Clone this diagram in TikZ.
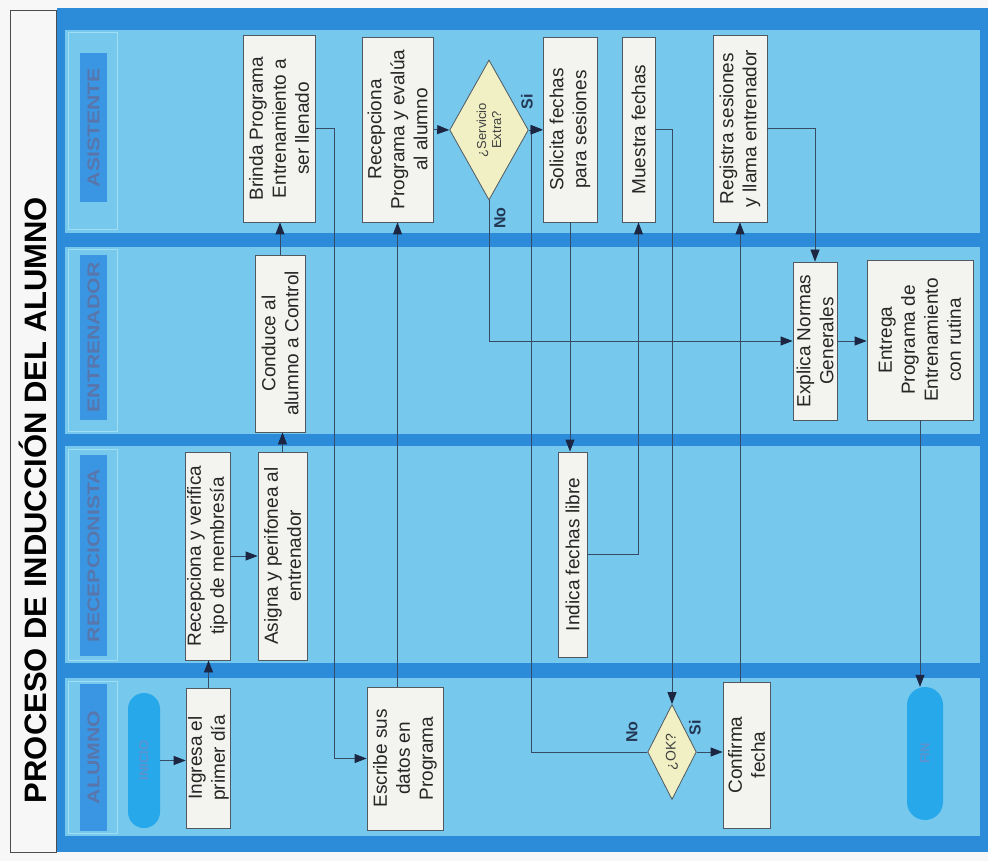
\documentclass[tikz,border=0pt]{standalone}
\usepackage{fontspec}
\setmainfont{Liberation Sans}
\newfontfamily\hdrfont[FakeStretch=1.25]{Liberation Sans}
\usetikzlibrary{arrows.meta,shapes.geometric,calc}

\definecolor{frameblue}{RGB}{45,140,218}
\definecolor{lanefill}{RGB}{118,200,236}
\definecolor{laneedge}{RGB}{160,222,246}
\definecolor{hdrfill}{RGB}{58,150,226}
\definecolor{hdrtext}{RGB}{88,118,172}
\definecolor{boxfill}{RGB}{243,244,240}
\definecolor{boxedge}{RGB}{80,88,96}
\definecolor{decfill}{RGB}{240,240,196}
\definecolor{termfill}{RGB}{38,168,234}
\definecolor{termtext}{RGB}{92,146,206}
\definecolor{wire}{RGB}{55,75,100}
\definecolor{tipcol}{RGB}{28,38,66}
\definecolor{labelcol}{RGB}{35,55,85}

\begin{document}
\begin{tikzpicture}[x=1pt,y=-1pt,
  stepbox/.style={draw=boxedge, line width=0.8pt, fill=boxfill, rotate=90,
    align=center, inner sep=2pt, font=\fontsize{19}{23}\selectfont, text=black!85},
  decision/.style={diamond, draw=boxedge, line width=0.8pt, fill=decfill, rotate=90,
    inner sep=0pt, align=center, text=black!75},
  terminal/.style={rounded corners=16pt, fill=termfill, rotate=90,
    font=\fontsize{13}{15}\selectfont\bfseries, text=termtext},
  lanehdr/.style={fill=hdrfill, rotate=90, inner sep=0pt,
    font=\hdrfont\bfseries\fontsize{17}{20}\selectfont, text=hdrtext},
  flow/.style={draw=wire, line width=0.8pt,
    -{Triangle[length=12pt,width=9pt,color=tipcol]}},
  branch/.style={rotate=90, font=\fontsize{16}{18}\selectfont\bfseries, text=labelcol}
]
\useasboundingbox (0,0) rectangle (988,861);

% paper and title frame
\fill[black!3] (0,0) rectangle (988,861);
\draw[black!70, line width=0.8pt] (10,10) rectangle (56,852);
\node[rotate=90, font=\bfseries\fontsize{31}{36}\selectfont] (title) at (33,500)
  {PROCESO DE INDUCCIÓN DEL ALUMNO};

% pool frame and swimlanes
\fill[frameblue] (57,8) rectangle (988,852);
\fill[lanefill] (65,30) rectangle (980,233);
\fill[lanefill] (65,247) rectangle (980,434);
\fill[lanefill] (65,446) rectangle (980,663);
\fill[lanefill] (65,678) rectangle (980,836);
\draw[laneedge, line width=1pt] (68,33) rectangle (117,230);
\draw[laneedge, line width=1pt] (68,250) rectangle (117,431);
\draw[laneedge, line width=1pt] (68,449) rectangle (117,660);
\draw[laneedge, line width=1pt] (68,681) rectangle (117,833);

\node[lanehdr, minimum width=149pt, minimum height=27pt] (hasis) at (93.5,127.5) {ASISTENTE};
\node[lanehdr, minimum width=165pt, minimum height=27pt] (hentr) at (93.5,337.5) {ENTRENADOR};
\node[lanehdr, minimum width=201pt, minimum height=27pt] (hrecp) at (93.5,555.5) {RECEPCIONISTA};
\node[lanehdr, minimum width=147pt, minimum height=27pt] (halum) at (93.5,757.5) {ALUMNO};

% ASISTENTE
\node[stepbox, minimum width=187pt, minimum height=72pt] (brinda) at (279,128.5)
  {Brinda Programa\\Entrenamiento a\\ser llenado};
\node[stepbox, minimum width=185pt, minimum height=71pt] (recprog) at (397.5,129.5)
  {Recepciona\\Programa y evalúa\\al alumno};
\node[decision, minimum width=140pt, minimum height=55pt,
  font=\fontsize{13}{15}\selectfont] (servicio) at (489,130) {¿Servicio\\Extra?};
\node[stepbox, minimum width=185pt, minimum height=54pt] (solicita) at (570,129.5)
  {Solicita fechas\\para sesiones};
\node[stepbox, minimum width=185pt, minimum height=33pt] (muestra) at (638.5,129.5)
  {Muestra fechas};
\node[stepbox, minimum width=187pt, minimum height=54pt] (registra) at (740,128.5)
  {Registra sesiones\\y llama entrenador};

% ENTRENADOR
\node[stepbox, minimum width=177pt, minimum height=50pt] (conduce) at (280,343.5)
  {Conduce al\\alumno a Control};
\node[stepbox, minimum width=158pt, minimum height=44pt] (explica) at (815,341)
  {Explica Normas\\Generales};
\node[stepbox, minimum width=160pt, minimum height=106pt] (entrega) at (920,340)
  {Entrega\\Programa de\\Entrenamiento\\con rutina};

% RECEPCIONISTA
\node[stepbox, minimum width=208pt, minimum height=45pt] (recverif) at (207.5,556)
  {Recepciona y verifica\\tipo de membresía};
\node[stepbox, minimum width=208pt, minimum height=49pt] (asigna) at (282.5,556)
  {Asigna y perifonea al\\entrenador};
\node[stepbox, minimum width=205pt, minimum height=29pt] (indica) at (572.5,554.5)
  {Indica fechas libre};

% ALUMNO
\node[terminal, minimum width=135pt, minimum height=32pt] (inicio) at (144,760.5) {INICIO};
\node[stepbox, minimum width=140pt, minimum height=43pt] (ingresa) at (208.5,758)
  {Ingresa el\\primer día};
\node[stepbox, minimum width=143pt, minimum height=76pt] (escribe) at (405,758.5)
  {Escribe sus\\datos en\\Programa};
\node[decision, minimum width=95pt, minimum height=35pt,
  font=\fontsize{14}{16}\selectfont] (ok) at (672,752) {¿OK?};
\node[stepbox, minimum width=146pt, minimum height=47pt] (confirma) at (746.5,755)
  {Confirma\\fecha};
\node[terminal, minimum width=133pt, minimum height=36pt, rounded corners=18pt] (fin) at (925,753.5) {FIN};

% branch labels
\node[branch] (servsi) at (527,102) {Si};
\node[branch] (servno) at (500,218) {No};
\node[branch] (okno) at (632,732) {No};
\node[branch] (oksi) at (695,728) {Si};

% flow
\draw[flow] (inicio.south) -- (inicio.south -| ingresa.north);
\draw[flow] (ingresa.east) -- (ingresa.east |- recverif.west);
\draw[flow] (recverif.south) -- (recverif.south -| asigna.north);
\draw[flow] (asigna.east) -- (asigna.east |- conduce.west);
\draw[flow] (conduce.east) -- (conduce.east |- brinda.west);
\draw[flow] (brinda.south) -| ($(escribe.north)+(-32,0)$) -- (escribe.north);
\draw[flow] (recprog.west |- escribe.east) -- (recprog.west);
\draw[flow] (recprog.south) -- (servicio.north);
\draw[flow] (servicio.south) -- (servicio.south -| solicita.north);
\draw[flow] (servicio.west) |- (explica.north);
\draw[flow] (solicita.west) -- (solicita.west |- indica.east);
\draw[flow] (indica.south) -| (muestra.west);
\draw[flow] (muestra.south) -| (ok.east);
\draw[flow] (ok.south) -- (ok.south -| confirma.north);
\draw[flow] (ok.north) -| ($(solicita.north)+(-11,0)$) -- (solicita.north);
\draw[flow] (registra.west |- confirma.east) -- (registra.west);
\draw[flow] (registra.south) -| (explica.east);
\draw[flow] (explica.south) -- (explica.south -| entrega.north);
\draw[flow] (entrega.west) -- (entrega.west |- fin.east);
\end{tikzpicture}
\end{document}
